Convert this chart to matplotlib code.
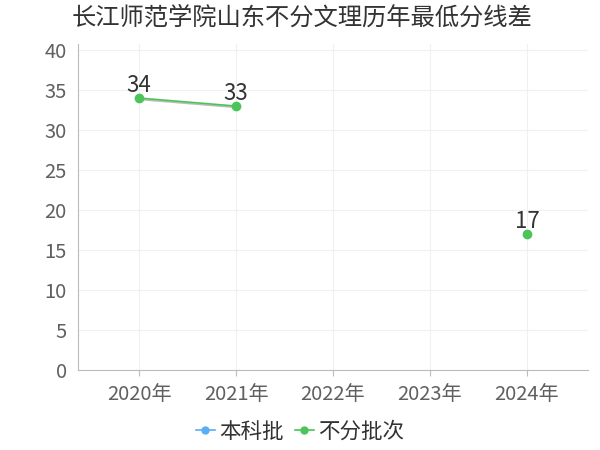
import numpy as np
import matplotlib
matplotlib.use("Agg")
import matplotlib.pyplot as plt
import matplotlib.patheffects as pe
from matplotlib.lines import Line2D

plt.rcParams['font.family'] = ['Noto Sans CJK SC', 'DejaVu Sans']

title = "长江师范学院山东不分文理历年最低分线差"
years = ["2020年", "2021年", "2022年", "2023年", "2024年"]
benke = [None, None, None, None, None]
bufen = [34, 33, None, None, 17]

blue = "#5aaef5"
green = "#4cc45a"

fig = plt.figure(figsize=(6, 4.5), dpi=100)
ax = fig.add_axes([0.13, 0.178, 0.85, 0.724])

x = np.arange(len(years))
y1 = np.array([np.nan if v is None else v for v in benke], dtype=float)
y2 = np.array([np.nan if v is None else v for v in bufen], dtype=float)

shadow = [pe.SimpleLineShadow(offset=(0.5, -1), shadow_color="#777777", alpha=0.5), pe.Normal()]
for y, c in [(y1, blue), (y2, green)]:
    ax.plot(x, y, color=c, lw=1.2, path_effects=shadow, zorder=3)
    ax.plot(x, y, color=c, lw=0, marker="o", ms=6, zorder=4)

for xi, v in zip(x, y2):
    if not np.isnan(v):
        ax.annotate(f"{v:g}", (xi, v), xytext=(0, 1), textcoords="offset points",
                    ha="center", va="bottom", fontsize=16, color="#333333")

ax.set_xlim(-0.63, 4.63)
ax.set_ylim(0, 40.75)
ax.set_yticks(range(0, 41, 5))
ax.set_xticks(x)
ax.set_xticklabels(years)
ax.grid(True, color="#f0f0f0", lw=0.8)
ax.set_axisbelow(True)
for s in ["top", "right"]:
    ax.spines[s].set_visible(False)
ax.spines["left"].set_color("#bbbbbb")
ax.spines["bottom"].set_color("#bbbbbb")
ax.tick_params(axis="y", length=0, labelsize=14.5, labelcolor="#606060", pad=8)
ax.tick_params(axis="x", length=4, color="#bbbbbb", labelsize=14.5, labelcolor="#606060", pad=6)

fig.text(0.12, 0.96, title, fontsize=17.5, color="#333333", ha="left", va="center")
handles = [Line2D([], [], color=blue, marker="o", ms=5, lw=1.2),
           Line2D([], [], color=green, marker="o", ms=5, lw=1.2)]
fig.legend(handles, ["本科批", "不分批次"], loc="center", bbox_to_anchor=(0.5, 0.04), ncol=2,
           frameon=False, fontsize=15.5, handlelength=0.9, handletextpad=0.2,
           columnspacing=0.5, labelcolor="#333333")

fig.savefig("out.png", dpi=100)
